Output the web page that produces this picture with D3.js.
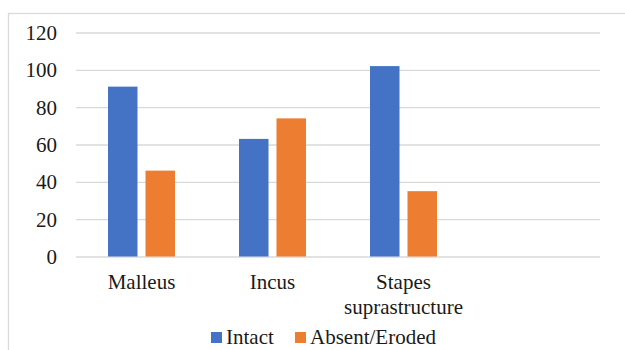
<!DOCTYPE html>
<html>
<head>
<meta charset="utf-8">
<script src="https://cdn.jsdelivr.net/npm/d3@7"></script>
<style>
  html, body { margin: 0; padding: 0; background: #fff; }
  svg { display: block; }
  text { font-family: "Liberation Serif", "Times New Roman", serif; fill: #1a1a1a; }
</style>
</head>
<body>
<svg id="chart" width="625" height="350"></svg>
<script>
// ---- data ----
const categories = ["Malleus", "Incus", "Stapes suprastructure", ""];
const seriesNames = ["Intact", "Absent/Eroded"];
const intactValues = [91, 63, 102, null];
const absentValues = [46, 74, 35, null];
const yTicks = [0, 20, 40, 60, 80, 100, 120];
const seriesColors = ["#4472C4", "#ED7D31"];

const rows = categories.map((c, i) => ({
  cat: c,
  vals: [intactValues[i], absentValues[i]]
}));

const svg = d3.select("#chart");

// chart border (extends past right/bottom edge)
svg.append("rect")
  .attr("x", 8.5).attr("y", 13.5)
  .attr("width", 700).attr("height", 400)
  .attr("fill", "none")
  .attr("stroke", "#d9d9d9")
  .attr("stroke-width", 1.3);

const plotLeft = 76, plotRight = 600, plotTop = 32.5, plotBottom = 256.5;

const x = d3.scaleBand().domain(d3.range(categories.length))
  .range([plotLeft, plotRight]).paddingInner(0).paddingOuter(0);
const groupInset = 32;
const xs = d3.scaleBand().domain(d3.range(seriesNames.length))
  .range([0, x.bandwidth() - 2 * groupInset]).paddingInner(0.2133).paddingOuter(0);
const y = d3.scaleLinear().domain([0, 120]).range([plotBottom, plotTop]);

// gridlines
const yAxis = d3.axisLeft(y).tickValues(yTicks)
  .tickSize(-(plotRight - plotLeft)).tickFormat(d3.format("d"));
const gy = svg.append("g").attr("transform", `translate(${plotLeft},0)`).call(yAxis);
gy.select(".domain").remove();
gy.selectAll(".tick line").attr("stroke", "#d9d9d9").attr("stroke-width", 1.4);
gy.selectAll(".tick text")
  .attr("x", -19)
  .attr("dy", "0.33em")
  .style("font-size", "21px")
  .style("font-family", "'Liberation Serif', 'Times New Roman', serif")
  .attr("fill", "#1a1a1a");

// bars
const groups = svg.append("g").selectAll("g").data(rows).join("g")
  .attr("transform", (d, i) => `translate(${x(i) + groupInset},0)`);
groups.selectAll("rect")
  .data(d => d.vals.map((v, j) => ({ v, j })).filter(e => e.v != null))
  .join("rect")
  .attr("x", e => xs(e.j))
  .attr("width", xs.bandwidth())
  .attr("y", e => y(e.v))
  .attr("height", e => y(0) - y(e.v))
  .attr("fill", e => seriesColors[e.j]);

// category labels (wrapped)
const catWrap = { "Stapes suprastructure": ["Stapes", "suprastructure"] };
rows.forEach((r, i) => {
  if (!r.cat) return;
  const lines = catWrap[r.cat] || [r.cat];
  const t = svg.append("text")
    .attr("text-anchor", "middle")
    .attr("x", x(i) + x.bandwidth() / 2)
    .attr("y", 289)
    .style("font-size", "21px");
  lines.forEach((ln, k) => {
    t.append("tspan").attr("x", x(i) + x.bandwidth() / 2)
      .attr("dy", k === 0 ? 0 : 24.5).text(ln);
  });
});

// legend
const legendItems = [
  { name: seriesNames[0], color: seriesColors[0], x: 211 },
  { name: seriesNames[1], color: seriesColors[1], x: 295 }
];
const lg = svg.append("g");
legendItems.forEach(it => {
  lg.append("rect").attr("x", it.x).attr("y", 332)
    .attr("width", 11).attr("height", 11).attr("fill", it.color);
  lg.append("text").attr("x", it.x + 15).attr("y", 344)
    .style("font-size", "21px").text(it.name);
});
</script>
</body>
</html>
